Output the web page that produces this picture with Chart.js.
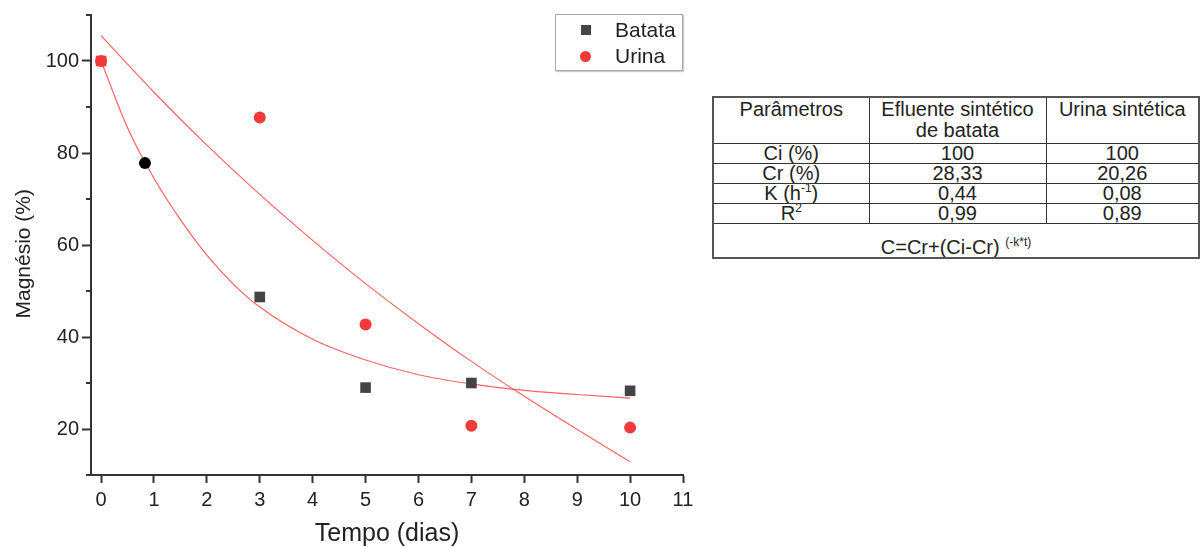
<!DOCTYPE html>
<html lang="pt">
<head>
<meta charset="utf-8">
<title>Magnésio - cinética</title>
<script src="https://cdn.jsdelivr.net/npm/chart.js@4.4.1/dist/chart.umd.min.js"></script>
<style>
  html, body { margin: 0; padding: 0; background: #fff; }
  body {
    position: relative; width: 1201px; height: 547px; overflow: hidden;
    font-family: "Liberation Sans", Arial, sans-serif; color: #222;
  }
  #chartBox { position: absolute; left: 0; top: 0; width: 700px; height: 547px; }
  #legend {
    position: absolute; left: 555px; top: 14px; width: 128px; height: 57px;
    border: 1px solid #aaa; box-shadow: 1px 1px 1px #ccc; background: #fff;
    font-size: 21px; line-height: 26px; box-sizing: border-box; padding-top: 2px;
  }
  #legend .item { position: relative; height: 26px; }
  #legend .mark { position: absolute; top: 8px; left: 25px; width: 10px; height: 10px; }
  #legend .mark.circle { border-radius: 50%; width: 11px; height: 11px; left: 24px; }
  #legend .txt { position: absolute; left: 59px; top: 0; }
  #params {
    position: absolute; left: 712px; top: 96px; width: 488px; table-layout: fixed;
    border-collapse: collapse; font-size: 20px; line-height: 19px; color: #222;
    border: 2px solid #555;
  }
  #params td { border: 1px solid #333; padding: 0; text-align: center; vertical-align: middle; height: 19px; overflow: hidden; }
  #params tr.head td { height: 44px; vertical-align: top; padding-top: 1px; line-height: 21px; }
  #params tr.formula td { height: 33px; vertical-align: bottom; padding-bottom: 0; }
  #params sup { font-size: 12px; line-height: 0; }
</style>
</head>
<body>
<div id="chartBox"><canvas id="magChart" width="700" height="547"></canvas></div>
<div id="legend"></div>
<table id="params">
  <colgroup><col style="width:156px"><col style="width:177px"><col></colgroup>
  <tbody id="paramsBody"></tbody>
</table>

<script>
// ---- data ----
const dayTicks = [0, 1, 2, 3, 4, 5, 6, 7, 8, 9, 10, 11];
const yTickValues = [10, 20, 30, 40, 50, 60, 70, 80, 90, 100, 110];

const batataDays = [0, 0.83, 3, 5, 7, 10];
const batataValues = [100, 77.8, 48.7, 29.0, 30.0, 28.3];
const urinaDays = [0, 3, 5, 7, 10];
const urinaValues = [100, 87.7, 42.7, 20.7, 20.3];

// fitted curves
const batataFitDays = [0, 0.5, 1, 1.5, 2, 2.5, 3, 4, 5, 6, 7, 8, 9, 10];
const batataFitValues = [100, 85.5, 74.5, 65.5, 57.8, 51.5, 46.5, 39.5, 35.0, 31.8, 29.8, 28.4, 27.5, 26.7];
const urinaFitDays = [0, 1, 2, 3, 4, 5, 6, 7, 8, 9, 10];
const urinaFitValues = [105.5, 93.2, 81.7, 71.0, 61.0, 51.6, 42.9, 34.7, 27.1, 19.9, 12.9];

const seriesNames = ['Batata', 'Urina'];

// table
const paramHeaders = ['Parâmetros', 'Efluente sintético<br>de batata', 'Urina sintética'];
const paramNames = ['Ci (%)', 'Cr (%)', 'K (h<sup>-1</sup>)', 'R<sup>2</sup>'];
const batataParams = ['100', '28,33', '0,44', '0,99'];
const urinaParams = ['100', '20,26', '0,08', '0,89'];
const modelFormula = 'C=Cr+(Ci-Cr) <sup>(-k*t)</sup>';

const GRAY = '#444444';
const RED = '#f23a3a';
const FIT = 'rgba(255, 70, 70, 0.85)';
const AXIS = '#333333';

const toPoints = (xs, ys) => xs.map((x, i) => ({ x: x, y: ys[i] }));

// Minor ticks (shorter) on the y axis
const minorTicks = {
  id: 'minorTicks',
  afterDraw(chart) {
    const y = chart.scales.y;
    const ctx = chart.ctx;
    ctx.save();
    ctx.strokeStyle = AXIS;
    ctx.lineWidth = 2;
    yTickValues.forEach((v) => {
      if (v % 20 === 0) return;
      const py = Math.round(y.getPixelForValue(v));
      ctx.beginPath();
      ctx.moveTo(y.right, py);
      ctx.lineTo(y.right - 5, py);
      ctx.stroke();
    });
    ctx.restore();
  }
};

const ctx = document.getElementById('magChart').getContext('2d');

new Chart(ctx, {
  type: 'scatter',
  data: {
    datasets: [
      {
        label: seriesNames[0],
        data: toPoints(batataDays, batataValues),
        pointStyle: batataDays.map((d, i) => (i === 1 ? 'circle' : 'rect')),
        pointRadius: batataDays.map((d, i) => (i === 1 ? 6 : 7.5)),
        backgroundColor: batataDays.map((d, i) => (i === 0 ? RED : i === 1 ? '#000' : GRAY)),
        borderWidth: 0,
        showLine: false
      },
      {
        label: seriesNames[1],
        data: toPoints(urinaDays, urinaValues),
        pointStyle: 'circle',
        pointRadius: 6,
        backgroundColor: RED,
        borderWidth: 0,
        showLine: false
      },
      {
        label: 'fit batata',
        data: toPoints(batataFitDays, batataFitValues),
        showLine: true,
        borderColor: FIT,
        borderWidth: 1.2,
        pointRadius: 0,
        cubicInterpolationMode: 'monotone',
        fill: false
      },
      {
        label: 'fit urina',
        data: toPoints(urinaFitDays, urinaFitValues),
        showLine: true,
        borderColor: FIT,
        borderWidth: 1.2,
        pointRadius: 0,
        cubicInterpolationMode: 'monotone',
        fill: false
      }
    ]
  },
  options: {
    responsive: false,
    animation: false,
    layout: { padding: { left: 0, top: 14, right: 17, bottom: 0 } },
    plugins: {
      legend: { display: false },
      tooltip: { enabled: false }
    },
    scales: {
      x: {
        type: 'linear',
        min: -0.19,
        max: 11,
        afterBuildTicks: (scale) => { scale.ticks = dayTicks.map((v) => ({ value: v })); },
        afterFit: (scale) => { scale.height = 72; },
        ticks: {
          autoSkip: false,
          maxRotation: 0,
          padding: 5,
          color: '#222',
          font: { family: 'Liberation Sans', size: 20 }
        },
        grid: { drawOnChartArea: false, drawTicks: true, tickLength: 8, tickWidth: 2, tickColor: AXIS },
        border: { color: AXIS, width: 2 },
        title: {
          display: true,
          text: 'Tempo (dias)',
          color: '#222',
          font: { family: 'Liberation Sans', size: 25, lineHeight: 1 },
          padding: { top: 0, bottom: 0 }
        }
      },
      y: {
        min: 10,
        max: 110,
        afterBuildTicks: (scale) => { scale.ticks = yTickValues.map((v) => ({ value: v })); },
        afterFit: (scale) => { scale.width = 91; },
        ticks: {
          padding: 3,
          color: '#222',
          font: { family: 'Liberation Sans', size: 20 },
          callback: (v) => (v % 20 === 0 ? v : '')
        },
        grid: {
          drawOnChartArea: false,
          drawTicks: true,
          tickLength: 9,
          tickWidth: 2,
          tickColor: (c) => (c.tick && c.tick.value % 20 === 0 ? AXIS : 'rgba(0,0,0,0)')
        },
        border: { color: AXIS, width: 2 },
        title: {
          display: true,
          // trailing no-break spaces nudge the title slightly downwards, as in the figure
          text: 'Magnésio (%)\u00a0\u00a0\u00a0',
          color: '#222',
          font: { family: 'Liberation Sans', size: 21, lineHeight: 1 },
          padding: { top: 14, bottom: 0 }
        }
      }
    }
  },
  plugins: [minorTicks]
});

// Legend box
const legendEl = document.getElementById('legend');
legendEl.innerHTML =
  '<div class="item"><span class="mark" style="background:' + GRAY + '"></span><span class="txt">' + seriesNames[0] + '</span></div>' +
  '<div class="item"><span class="mark circle" style="background:' + RED + '"></span><span class="txt">' + seriesNames[1] + '</span></div>';

// Parameters table
const tbody = document.getElementById('paramsBody');
let html = '<tr class="head">' + paramHeaders.map((h) => '<td>' + h + '</td>').join('') + '</tr>';
paramNames.forEach((name, i) => {
  html += '<tr><td>' + name + '</td><td>' + batataParams[i] + '</td><td>' + urinaParams[i] + '</td></tr>';
});
html += '<tr class="formula"><td colspan="3">' + modelFormula + '</td></tr>';
tbody.innerHTML = html;
</script>
</body>
</html>
